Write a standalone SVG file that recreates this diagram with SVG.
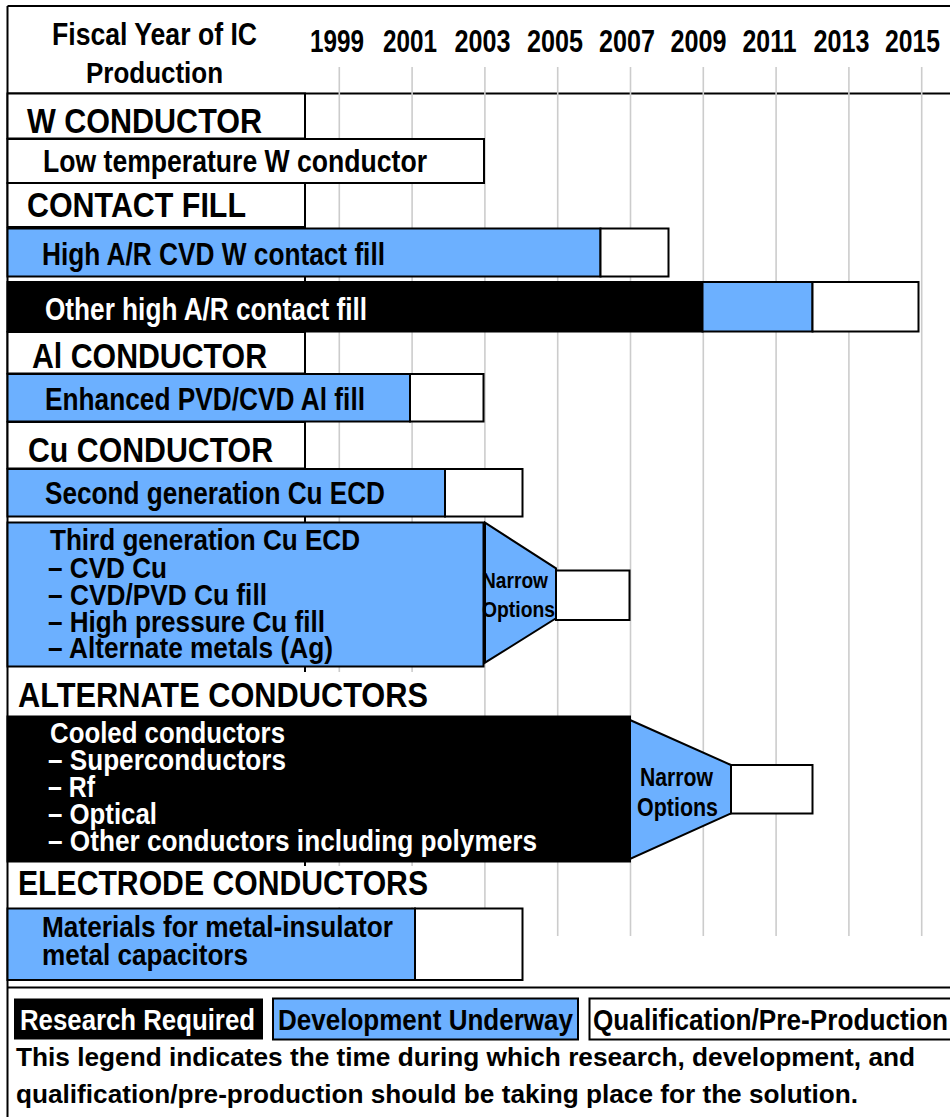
<svg xmlns="http://www.w3.org/2000/svg" width="950" height="1117" viewBox="0 0 950 1117">
<style>
text{font-family:"Liberation Sans",Arial,sans-serif;font-weight:bold;fill:#000}
.w{fill:#fff}
.lab{font-size:35px}
.bar{font-size:31px}
.sub{font-size:29px}
.nar{font-size:22px}
.nar2{font-size:25px}
.leg{font-size:30px}
.desc{font-size:26px}
.yr{font-size:31px;text-anchor:middle}
.grid{stroke:#cccccc;stroke-width:1.6}
.frame{stroke:#000;stroke-width:2;fill:none}
.blue{fill:#6cb0ff;stroke:#000;stroke-width:2}
.blk{fill:#000;stroke:#000;stroke-width:2}
.wht{fill:#fff;stroke:#000;stroke-width:2}
</style>
<rect width="950" height="1117" fill="#fff"/>
<g id="frame">
<line class="frame" x1="7.5" y1="6" x2="7.5" y2="1117"/>
<line class="frame" x1="7.5" y1="6" x2="950" y2="6"/>
<line class="frame" x1="7.5" y1="93.5" x2="950" y2="93.5"/>
<line class="frame" x1="7.5" y1="987.5" x2="950" y2="987.5"/>
</g>
<g id="grid">
<line class="grid" x1="339.3" y1="67" x2="339.3" y2="936"/>
<line class="grid" x1="412.1" y1="67" x2="412.1" y2="936"/>
<line class="grid" x1="484.9" y1="67" x2="484.9" y2="936"/>
<line class="grid" x1="557.7" y1="67" x2="557.7" y2="936"/>
<line class="grid" x1="630.5" y1="67" x2="630.5" y2="936"/>
<line class="grid" x1="703.3" y1="67" x2="703.3" y2="936"/>
<line class="grid" x1="776.1" y1="67" x2="776.1" y2="936"/>
<line class="grid" x1="848.9" y1="67" x2="848.9" y2="936"/>
<line class="grid" x1="921.7" y1="67" x2="921.7" y2="936"/>
<line x1="305" y1="93.5" x2="305" y2="868" stroke="#000" stroke-width="2"/>
</g>
<g id="header">
<text x="52" y="45" font-size="31" textLength="205" lengthAdjust="spacingAndGlyphs">Fiscal Year of IC</text>
<text x="86" y="83" font-size="30" textLength="137" lengthAdjust="spacingAndGlyphs">Production</text>
<text class="yr" x="337" y="52" textLength="54" lengthAdjust="spacingAndGlyphs">1999</text>
<text class="yr" x="410" y="52" textLength="54" lengthAdjust="spacingAndGlyphs">2001</text>
<text class="yr" x="482.5" y="52" textLength="56" lengthAdjust="spacingAndGlyphs">2003</text>
<text class="yr" x="555" y="52" textLength="56" lengthAdjust="spacingAndGlyphs">2005</text>
<text class="yr" x="627" y="52" textLength="56" lengthAdjust="spacingAndGlyphs">2007</text>
<text class="yr" x="698.5" y="52" textLength="56" lengthAdjust="spacingAndGlyphs">2009</text>
<text class="yr" x="769.5" y="52" textLength="54" lengthAdjust="spacingAndGlyphs">2011</text>
<text class="yr" x="841.5" y="52" textLength="56" lengthAdjust="spacingAndGlyphs">2013</text>
<text class="yr" x="912.5" y="52" textLength="55" lengthAdjust="spacingAndGlyphs">2015</text>
</g>
<g id="w-conductor">
<rect class="wht" x="7.5" y="93.5" width="297.5" height="45"/>
<text class="lab" x="27" y="133" textLength="235" lengthAdjust="spacingAndGlyphs">W CONDUCTOR</text>
</g>
<g id="low-temp-w">
<rect class="wht" x="7.5" y="139" width="476.5" height="44"/>
<text class="bar" x="43" y="172" textLength="384" lengthAdjust="spacingAndGlyphs">Low  temperature W conductor</text>
</g>
<g id="contact-fill">
<rect class="wht" x="7.5" y="183" width="297.5" height="44"/>
<text class="lab" x="27" y="217" textLength="219" lengthAdjust="spacingAndGlyphs">CONTACT FILL</text>
</g>
<g id="high-ar-cvd-w">
<rect class="blue" x="7.5" y="228.5" width="593" height="48"/>
<rect class="wht" x="600.5" y="228.5" width="68" height="48"/>
<text class="bar" x="42" y="265" textLength="343" lengthAdjust="spacingAndGlyphs">High A/R CVD W contact fill</text>
</g>
<g id="other-high-ar">
<rect class="blk" x="7.5" y="282" width="695" height="49.5"/>
<rect class="blue" x="702.5" y="282" width="110" height="49.5"/>
<rect class="wht" x="812.5" y="282" width="106" height="49.5"/>
<text class="bar w" x="45" y="320" textLength="322" lengthAdjust="spacingAndGlyphs">Other high A/R contact fill</text>
</g>
<g id="al-conductor">
<rect class="wht" x="7.5" y="332" width="297.5" height="41.5"/>
<text class="lab" x="32" y="368" textLength="235" lengthAdjust="spacingAndGlyphs">Al CONDUCTOR</text>
</g>
<g id="enhanced-al">
<rect class="blue" x="7.5" y="374" width="402.5" height="47.5"/>
<rect class="wht" x="410" y="374" width="73.5" height="47.5"/>
<text class="bar" x="45" y="410" textLength="320" lengthAdjust="spacingAndGlyphs">Enhanced PVD/CVD Al fill</text>
</g>
<g id="cu-conductor">
<rect class="wht" x="7.5" y="422" width="297.5" height="46.5"/>
<text class="lab" x="28" y="462" textLength="245" lengthAdjust="spacingAndGlyphs">Cu CONDUCTOR</text>
</g>
<g id="second-gen-cu">
<rect class="blue" x="7.5" y="469" width="437.5" height="47.5"/>
<rect class="wht" x="445" y="469" width="77.5" height="47.5"/>
<text class="bar" x="45" y="504" textLength="340" lengthAdjust="spacingAndGlyphs">Second generation Cu ECD</text>
</g>
<g id="third-gen-cu">
<rect class="blue" x="7.5" y="522.5" width="476" height="144"/>
<polygon class="blue" points="485,522.7 556,568.3 556,618.3 485,662.7"/>
<rect class="wht" x="556" y="570.5" width="73.5" height="49.5"/>
<text class="sub" x="50" y="550" textLength="310" lengthAdjust="spacingAndGlyphs">Third generation Cu ECD</text>
<text class="sub" x="48" y="577.5" textLength="119" lengthAdjust="spacingAndGlyphs">– CVD Cu</text>
<text class="sub" x="48" y="604.5" textLength="219" lengthAdjust="spacingAndGlyphs">– CVD/PVD Cu fill</text>
<text class="sub" x="48" y="631.5" textLength="277" lengthAdjust="spacingAndGlyphs">– High pressure Cu fill</text>
<text class="sub" x="48" y="658" textLength="285" lengthAdjust="spacingAndGlyphs">– Alternate metals (Ag)</text>
<text class="nar" x="482" y="588" textLength="66" lengthAdjust="spacingAndGlyphs">Narrow</text>
<text class="nar" x="482" y="617" textLength="73" lengthAdjust="spacingAndGlyphs">Options</text>
</g>
<g id="alternate-conductors">
<rect x="17" y="672" width="413" height="44.5" fill="#fff"/>
<text class="lab" x="18" y="707" textLength="410" lengthAdjust="spacingAndGlyphs">ALTERNATE CONDUCTORS</text>
</g>
<g id="cooled-conductors">
<rect class="blk" x="7.5" y="716.5" width="622.5" height="145"/>
<polygon class="blue" points="630,720 731,765 731,813.3 630,859"/>
<rect class="wht" x="731" y="765" width="81.5" height="48.5"/>
<text class="sub w" x="50" y="743" textLength="235" lengthAdjust="spacingAndGlyphs">Cooled conductors</text>
<text class="sub w" x="48" y="770" textLength="238" lengthAdjust="spacingAndGlyphs">– Superconductors</text>
<text class="sub w" x="48" y="797" textLength="47" lengthAdjust="spacingAndGlyphs">– Rf</text>
<text class="sub w" x="48" y="823.5" textLength="109" lengthAdjust="spacingAndGlyphs">– Optical</text>
<text class="sub w" x="48" y="851" textLength="489" lengthAdjust="spacingAndGlyphs">– Other conductors including polymers</text>
<text class="nar2" x="640" y="786" textLength="73" lengthAdjust="spacingAndGlyphs">Narrow</text>
<text class="nar2" x="637" y="816" textLength="81" lengthAdjust="spacingAndGlyphs">Options</text>
</g>
<g id="electrode-conductors">
<rect x="17" y="866" width="413" height="41" fill="#fff"/>
<text class="lab" x="18" y="895" textLength="410" lengthAdjust="spacingAndGlyphs">ELECTRODE CONDUCTORS</text>
</g>
<g id="mim-capacitors">
<rect class="blue" x="7.5" y="908.5" width="407.5" height="71.5"/>
<rect class="wht" x="415" y="908.5" width="107.5" height="71.5"/>
<text class="sub" x="42" y="937" textLength="351" lengthAdjust="spacingAndGlyphs">Materials for metal-insulator</text>
<text class="sub" x="42" y="965" textLength="206" lengthAdjust="spacingAndGlyphs">metal capacitors</text>
</g>
<g id="legend">
<rect x="14" y="998.5" width="249" height="41" fill="#000"/>
<text class="leg w" x="20" y="1030" textLength="235" lengthAdjust="spacingAndGlyphs">Research Required</text>
<rect class="blue" x="273" y="998.5" width="305" height="41"/>
<text class="leg" x="278" y="1030" textLength="295" lengthAdjust="spacingAndGlyphs">Development Underway</text>
<rect class="wht" x="589.5" y="998.5" width="370" height="41"/>
<text class="leg" x="593" y="1030" textLength="355" lengthAdjust="spacingAndGlyphs">Qualification/Pre-Production</text>
<text class="desc" x="16" y="1066" textLength="899" lengthAdjust="spacingAndGlyphs">This legend indicates the time during which research, development, and</text>
<text class="desc" x="16" y="1103" textLength="842" lengthAdjust="spacingAndGlyphs">qualification/pre-production should be taking place for the solution.</text>
</g>
</svg>
